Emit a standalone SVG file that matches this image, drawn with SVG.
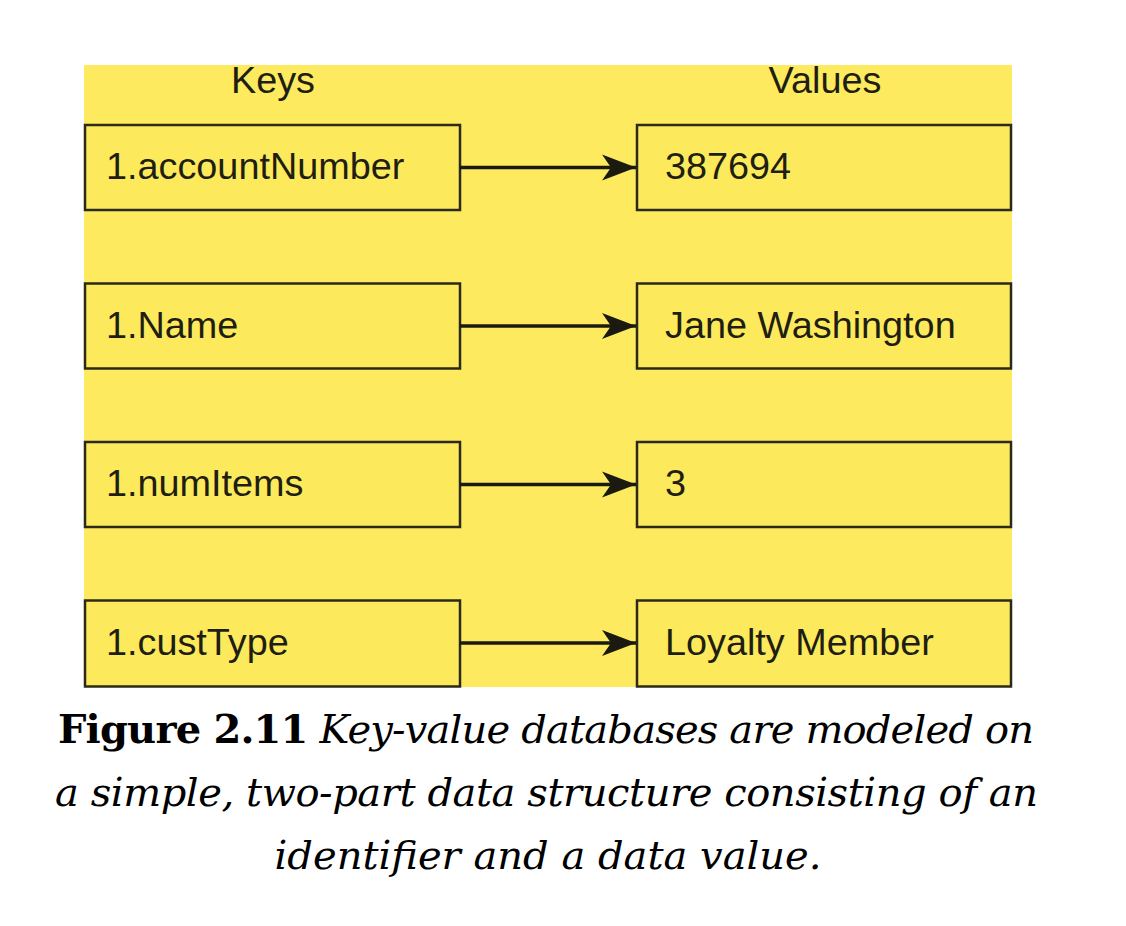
<svg xmlns="http://www.w3.org/2000/svg" width="1126" height="926" viewBox="0 0 1126 926">
<style>
.box{fill:#fdea5c;stroke:#2b2a18;stroke-width:2.5}
.t{font-family:"Liberation Sans",Arial,sans-serif;font-size:37.8px;fill:#1f1e12}
.cap{font-family:"DejaVu Serif","Liberation Serif",serif;font-size:40px;fill:#000}
.conn{stroke:#1a1a10;stroke-width:3.5;fill:none}
</style>
<defs>
<marker id="ah" markerUnits="userSpaceOnUse" markerWidth="36" markerHeight="30" refX="34" refY="15" orient="auto">
<path d="M0,2 L34,15 L0,28 L9,15 Z" fill="#1a1a10"/>
</marker>
</defs>
<rect width="1126" height="926" fill="#fff"/>
<rect id="bg" x="84" y="65" width="928" height="622" fill="#fdea5e"/>
<g id="headers">
<text class="t" x="273" y="93" text-anchor="middle">Keys</text>
<text class="t" x="825" y="93" text-anchor="middle">Values</text>
</g>
<g id="key1"><rect class="box" x="85" y="125" width="375" height="85"/><text class="t" x="106" y="179">1.accountNumber</text></g>
<g id="key2"><rect class="box" x="85" y="283.5" width="375" height="85"/><text class="t" x="106" y="337.5">1.Name</text></g>
<g id="key3"><rect class="box" x="85" y="442" width="375" height="85"/><text class="t" x="106" y="496">1.numItems</text></g>
<g id="key4"><rect class="box" x="85" y="600.5" width="375" height="86"/><text class="t" x="106" y="655">1.custType</text></g>
<g id="val1"><rect class="box" x="637" y="125" width="374" height="85"/><text class="t" x="665" y="179">387694</text></g>
<g id="val2"><rect class="box" x="637" y="283.5" width="374" height="85"/><text class="t" x="665" y="337.5">Jane Washington</text></g>
<g id="val3"><rect class="box" x="637" y="442" width="374" height="85"/><text class="t" x="665" y="496">3</text></g>
<g id="val4"><rect class="box" x="637" y="600.5" width="374" height="86"/><text class="t" x="665" y="655">Loyalty Member</text></g>
<g id="connectors">
<line class="conn" x1="460" y1="167.5" x2="636" y2="167.5" marker-end="url(#ah)"/>
<line class="conn" x1="460" y1="326" x2="636" y2="326" marker-end="url(#ah)"/>
<line class="conn" x1="460" y1="484.5" x2="636" y2="484.5" marker-end="url(#ah)"/>
<line class="conn" x1="460" y1="643" x2="636" y2="643" marker-end="url(#ah)"/>
</g>
<g id="caption">
<text class="cap" x="58" y="743" textLength="976"><tspan font-weight="bold">Figure 2.11</tspan><tspan font-style="italic"> Key-value databases are modeled on</tspan></text>
<text class="cap" x="55" y="806" textLength="983" font-style="italic">a simple, two-part data structure consisting of an</text>
<text class="cap" x="548" y="869" text-anchor="middle" font-style="italic">identifier and a data value.</text>
</g>
</svg>
